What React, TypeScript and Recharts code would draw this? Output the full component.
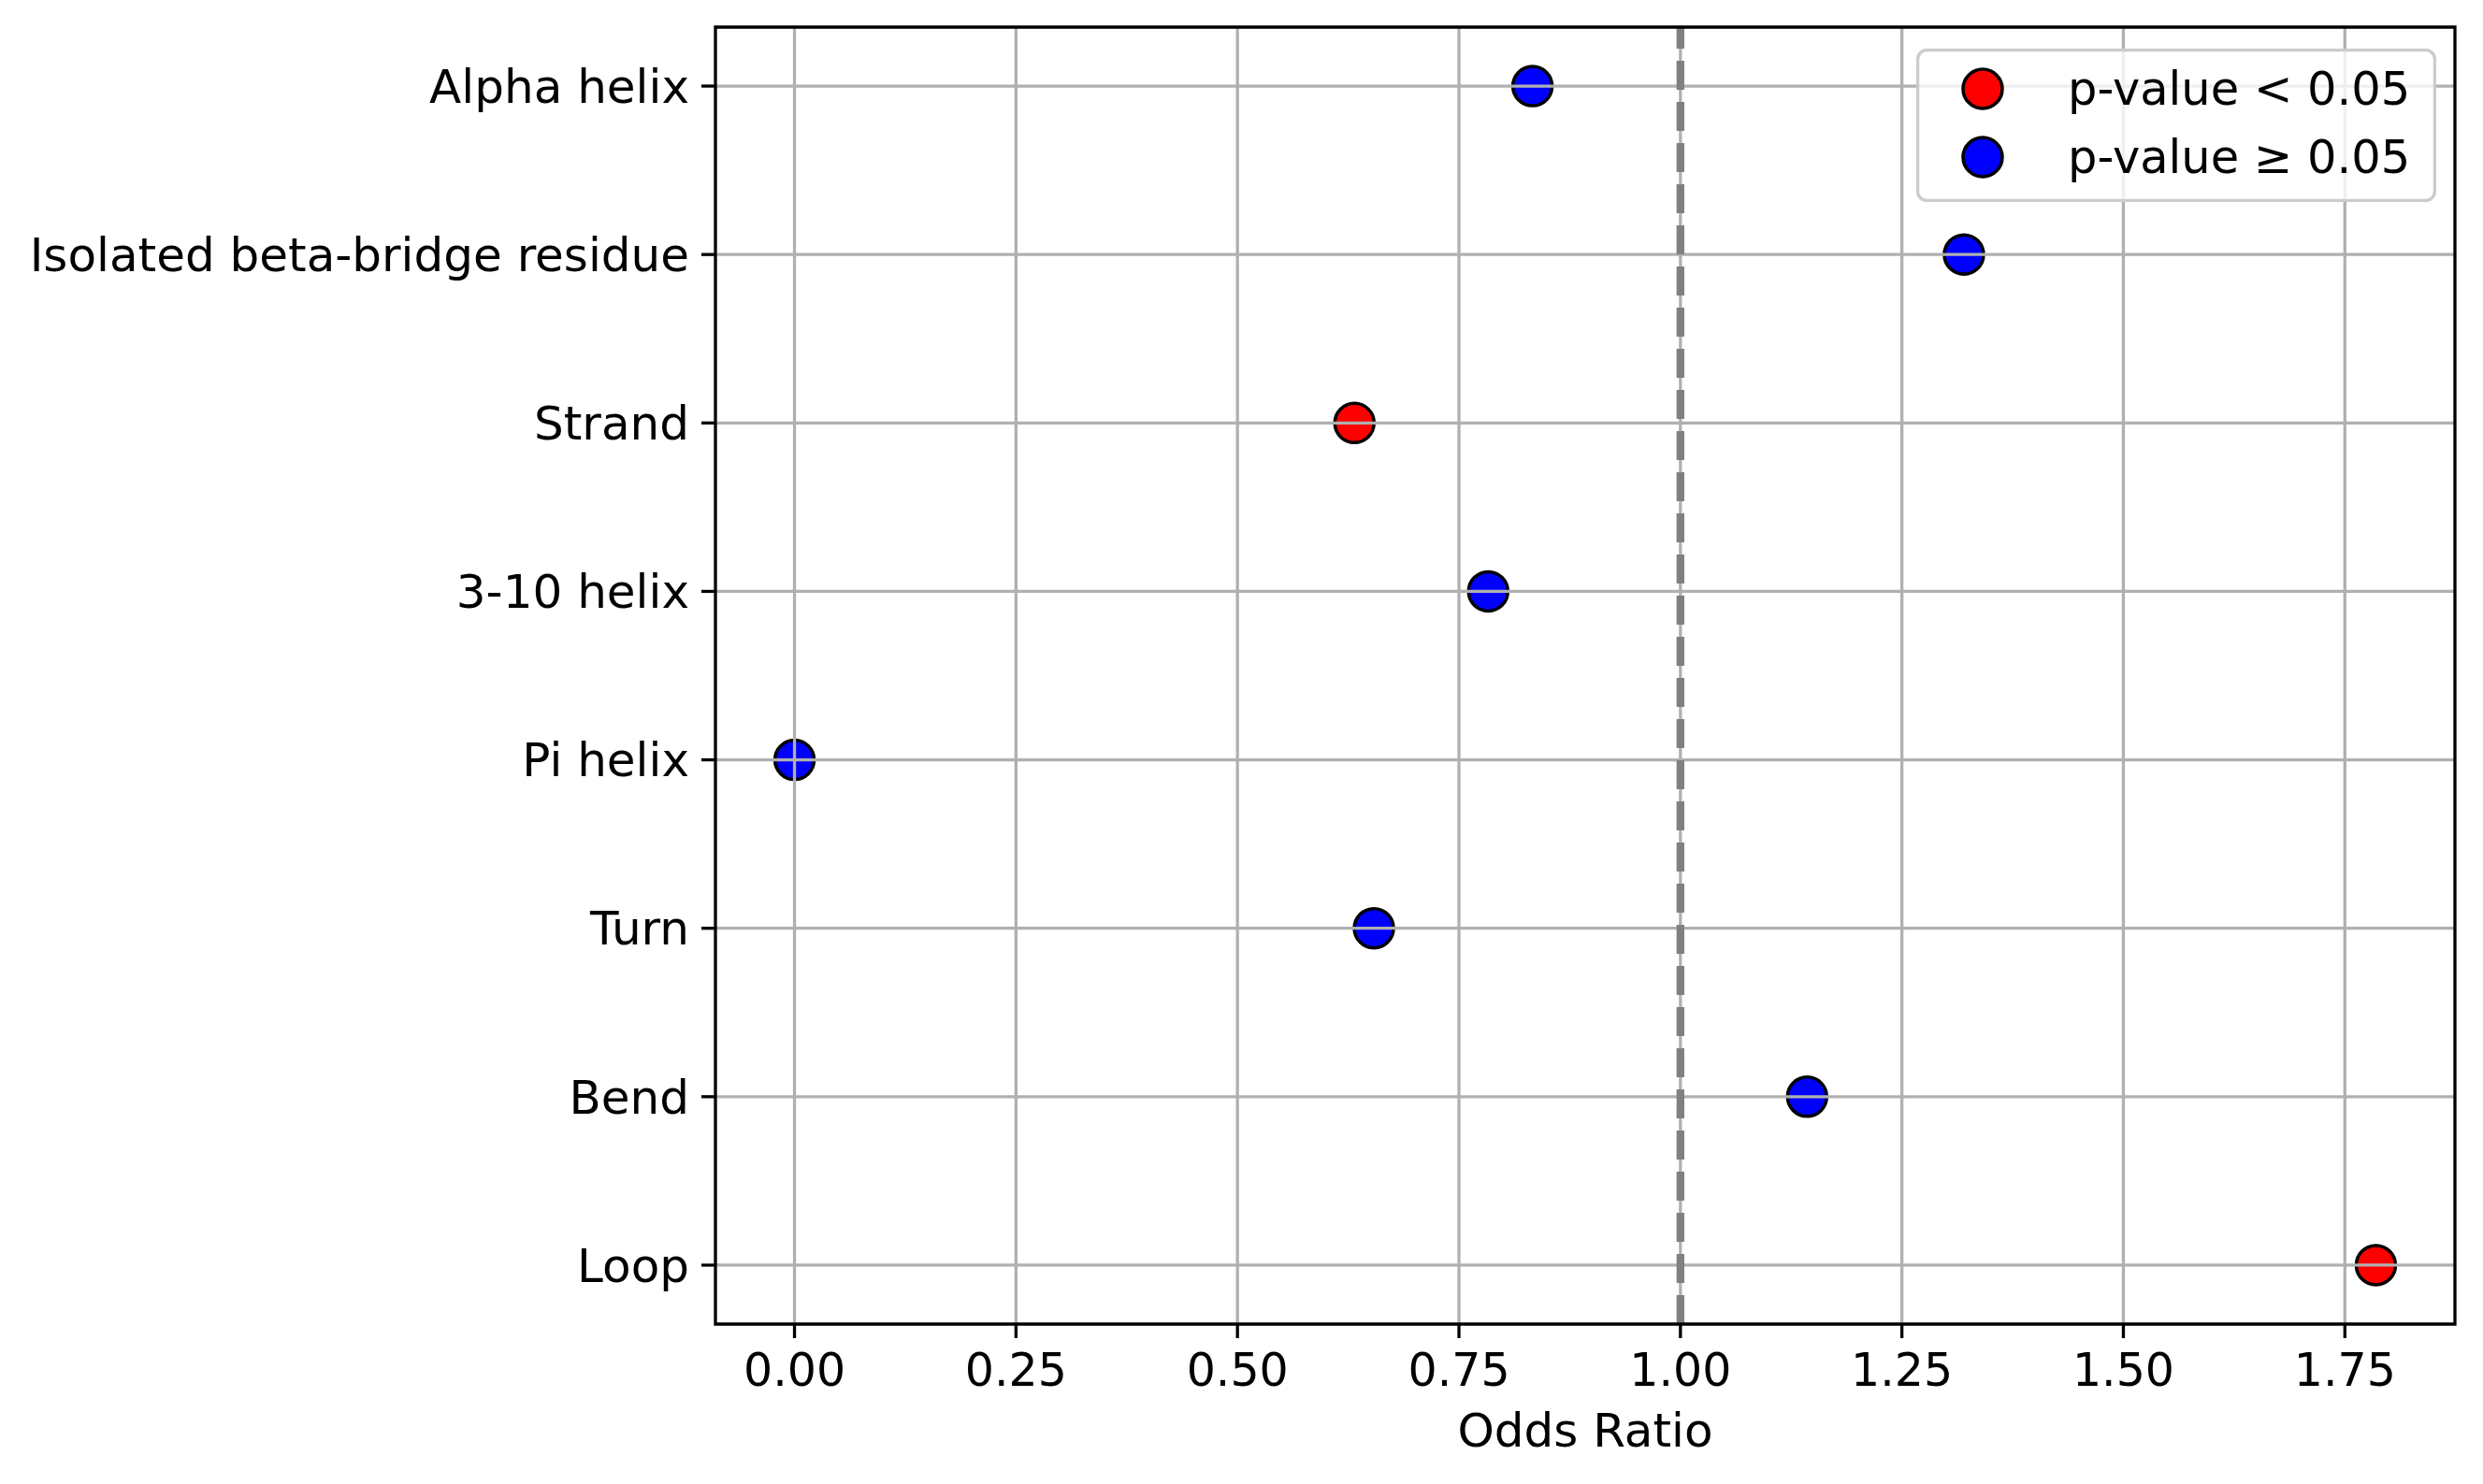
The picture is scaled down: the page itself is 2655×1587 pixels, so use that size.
import React from 'react';
import {
  ScatterChart,
  Scatter,
  XAxis,
  YAxis,
  ReferenceLine,
  ReferenceArea,
  Legend,
} from 'recharts';

const categories = [
  'Alpha helix',
  'Isolated beta-bridge residue',
  'Strand',
  '3-10 helix',
  'Pi helix',
  'Turn',
  'Bend',
  'Loop',
];
const oddsRatios = [0.833, 1.32, 0.632, 0.783, 0.0, 0.654, 1.143, 1.785];
const significant = [false, false, true, false, false, false, false, true];
const xTicks = [0, 0.25, 0.5, 0.75, 1.0, 1.25, 1.5, 1.75];
const yTicks = categories.map((_, i) => i);

const FONT = '"DejaVu Sans", sans-serif';
const GRID = '#b0b0b0';
const RED = '#ff0000';
const BLUE = '#0000ff';

const points = categories.map((name, i) => ({ name, y: i, or: oddsRatios[i], sig: significant[i] }));
const sigPoints = points.filter((p) => p.sig);
const nsPoints = points.filter((p) => !p.sig);

// matplotlib-style 5% margins
const xMin = Math.min(...oddsRatios);
const xMax = Math.max(...oddsRatios);
const xPad = (xMax - xMin) * 0.05;
const xDomain: [number, number] = [xMin - xPad, xMax + xPad];
const yPad = (categories.length - 1) * 0.05;
const yDomain: [number, number] = [-yPad, categories.length - 1 + yPad];

const dot = (color: string) => (props: any) => (
  <circle cx={props.cx} cy={props.cy} r={21} fill={color} stroke="#000" strokeWidth={3.5} />
);

const LegendBox = () => (
  <svg width={556} height={164}>
    <rect x={1.5} y={1.5} width={553} height={161} rx={10} ry={10} fill="#fff" fillOpacity={0.8} stroke="#cccccc" strokeWidth={3.5} />
    <circle cx={71} cy={43} r={21} fill={RED} stroke="#000" strokeWidth={3.5} />
    <text x={162} y={60} fontSize={49.5} fontFamily={FONT} fill="#000">p-value &lt; 0.05</text>
    <circle cx={71} cy={116} r={21} fill={BLUE} stroke="#000" strokeWidth={3.5} />
    <text x={162} y={133} fontSize={49.5} fontFamily={FONT} fill="#000">p-value ≥ 0.05</text>
  </svg>
);

export default function App() {
  return (
    <div style={{ position: 'absolute', left: 0, top: 0, width: 2655, height: 1587, background: '#fff' }}>
      <ScatterChart
        width={2655}
        height={1587}
        margin={{ top: 29, right: 30, left: 0, bottom: 0 }}
        style={{ fontFamily: FONT }}
      >
        <XAxis
          type="number"
          dataKey="or"
          domain={xDomain}
          ticks={xTicks}
          allowDataOverflow
          tickFormatter={(v: number) => v.toFixed(2)}
          height={171}
          tickSize={15}
          tickMargin={16}
          axisLine={false}
          tickLine={{ stroke: '#000', strokeWidth: 3.3 }}
          tick={{ fill: '#000', fontSize: 49, fontFamily: FONT }}
          label={{ value: 'Odds Ratio', position: 'insideBottom', offset: 40, fill: '#000', fontSize: 50, fontFamily: FONT }}
        />
        <YAxis
          type="number"
          dataKey="y"
          domain={yDomain}
          ticks={yTicks}
          reversed
          allowDataOverflow
          interval={0}
          tickFormatter={(i: number) => categories[i] ?? ''}
          width={765}
          tickSize={15}
          tickMargin={13}
          axisLine={false}
          tickLine={{ stroke: '#000', strokeWidth: 3.3 }}
          tick={{ fill: '#000', fontSize: 50, fontFamily: FONT }}
        />
        <Scatter name="p-value < 0.05" data={sigPoints} shape={dot(RED)} isAnimationActive={false} />
        <Scatter name="p-value ≥ 0.05" data={nsPoints} shape={dot(BLUE)} isAnimationActive={false} />
        {xTicks.map((t) => (
          <ReferenceLine key={'gx' + t} x={t} stroke={GRID} strokeWidth={3.3} zIndex={650} />
        ))}
        {yTicks.map((t) => (
          <ReferenceLine key={'gy' + t} y={t} stroke={GRID} strokeWidth={3.3} zIndex={650} />
        ))}
        <ReferenceLine
          segment={[{ x: 1, y: yDomain[1] }, { x: 1, y: yDomain[0] }]}
          stroke="#808080"
          strokeWidth={8.3}
          strokeDasharray="31 13"
          zIndex={700}
        />
        <ReferenceArea
          x1={xDomain[0]}
          x2={xDomain[1]}
          y1={yDomain[0]}
          y2={yDomain[1]}
          fill="none"
          fillOpacity={0}
          stroke="#000"
          strokeWidth={3.3}
          zIndex={800}
        />
        <Legend
          layout="vertical"
          align="center"
          verticalAlign="middle"
          content={() => <LegendBox />}
          wrapperStyle={{ position: 'absolute', left: 2049, top: 52, width: 556, height: 164 }}
        />
      </ScatterChart>
    </div>
  );
}
